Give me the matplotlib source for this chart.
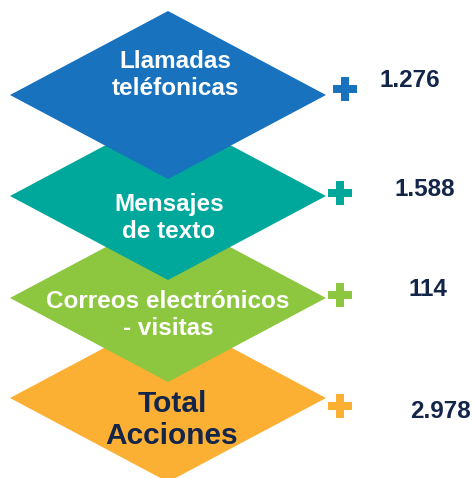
import matplotlib
matplotlib.use("Agg")
from matplotlib import pyplot as plt
from matplotlib.patches import Polygon

# data
categorias = ["Llamadas\nteléfonicas", "Mensajes\nde texto", "Correos electrónicos\n- visitas", "Total\nAcciones"]
valores = [1276, 1588, 114, 2978]
colores = ["#1872be", "#00a79b", "#8dc63f", "#fbb034"]
texto_color = ["white", "white", "white", "#14254a"]

plt.rcParams['font.family'] = ['Liberation Sans', 'DejaVu Sans']

fig = plt.figure(figsize=(4.73, 4.78), dpi=100)
ax = fig.add_axes([0, 0, 1, 1])
ax.set_xlim(0, 473)
ax.set_ylim(478, 0)
ax.axis("off")

cx, hw, hh = 168, 158, 84
centros_y = [95, 196, 298, 398]
label_x = [175, 169, 168, 172]
label_y = [75, 218, 315, 420]
valor_x = [410, 425, 428, 440]
valor_dy = [-15, -6, -9, 13]
plus_x = [345, 340, 340, 340]
plus_dy = [-6, -3, -3, 8]

# draw bottom first so the upper diamond covers the one below
for i in reversed(range(len(categorias))):
    cy = centros_y[i]
    rombo = Polygon([(cx, cy - hh), (cx + hw, cy), (cx, cy + hh), (cx - hw, cy)],
                    closed=True, facecolor=colores[i], edgecolor="none", zorder=10 - i)
    ax.add_patch(rombo)
    big = i == 3
    ax.text(label_x[i], label_y[i], categorias[i], ha="center", va="center",
            color=texto_color[i], fontsize=21.5 if big else 17.5, fontweight="bold",
            linespacing=1.2, zorder=20)
    ax.plot(plus_x[i], cy + plus_dy[i], marker="P", markersize=17, color=colores[i],
            markeredgewidth=0, zorder=20)
    ax.text(valor_x[i], cy + valor_dy[i], "{:,}".format(valores[i]).replace(",", "."),
            ha="center", va="center", color="#14254a", fontsize=17.5, fontweight="bold", zorder=20)

fig.savefig("out.png", dpi=100)
